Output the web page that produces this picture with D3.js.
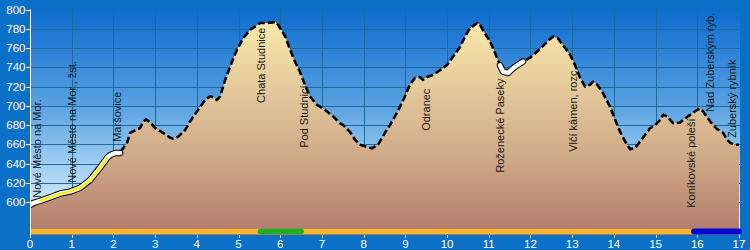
<!DOCTYPE html>
<html><head><meta charset="utf-8">
<script src="https://cdn.jsdelivr.net/npm/d3@7"></script>
<style>body{margin:0;background:#0b70c8;overflow:hidden}svg{display:block}</style>
</head><body><svg id="c" width="750" height="250"></svg>
<script>
const distKm = [0.00,0.07,0.24,0.48,0.72,0.96,1.20,1.44,1.68,1.85,1.92,2.04,2.16,2.23,2.33,2.40,2.54,2.64,2.71,2.78,2.88,3.00,3.19,3.36,3.43,3.55,3.72,3.84,4.08,4.20,4.32,4.39,4.48,4.56,4.68,4.80,4.96,5.11,5.28,5.52,5.68,5.88,5.95,6.12,6.24,6.35,6.47,6.59,6.71,6.88,7.07,7.27,7.43,7.51,7.67,7.79,7.91,8.03,8.20,8.35,8.51,8.63,8.75,8.87,8.99,9.11,9.23,9.35,9.42,9.52,9.66,9.83,10.00,10.14,10.31,10.43,10.55,10.72,10.79,10.91,11.03,11.15,11.27,11.34,11.46,11.58,11.70,11.82,11.99,12.23,12.40,12.54,12.66,12.78,12.95,13.07,13.19,13.31,13.43,13.50,13.60,13.74,13.91,14.03,14.15,14.27,14.39,14.51,14.63,14.75,14.87,14.99,15.11,15.18,15.28,15.35,15.42,15.59,15.66,15.83,16.00,16.07,16.14,16.31,16.47,16.62,16.71,16.79,16.91,17.00];
const elevM = [597,599,601.5,605,609,611,615,623,636,646,649,651,651,656,662,672,675,677,683,686,683,677,672,667,666,668,675,684,699,706,710,709,706,710,727,741,758,770,779,786,786,787,784,772,758,746,735.5,722,710,701,696,689,682,680,673,665,659.6,658,656,660,672,680,689,699,710,722,729,730,727,730,732,737,742.5,751,761,772,780.5,786,784,775,767,755,742,735.5,734,739,742.5,746,750,759,766.6,772,770,763,753,742,729,720,722,725,722,713,699,685.5,673,663,655,656.5,663,670,677,680,685.5,690.7,689,685.5,682,682.7,685.5,690.7,696,697,694,683.7,676,672,665,661.6,659.6,659.6];

const yTickValues = [600,620,640,660,680,700,720,740,760,780,800];
const xTickValues = [0,1,2,3,4,5,6,7,8,9,10,11,12,13,14,15,16,17];

const placeNames = ["Nové Město na Mor.","Nové Město na Mor., žst.","Maršovice","Chata Studnice","Pod Studnicí","Odranec","Roženecké Paseky","Vlčí kámen, rozc.","Koníkovské poleší","Nad Zuberským ryb.","Zuberský rybník"];
const placeKm = [0.05,0.89,1.97,5.42,6.45,9.38,11.15,12.90,15.73,16.19,16.71];
const placeLabelElev = [604.7,620.2,662.7,703.1,656.5,674.1,630.6,652.3,594.3,693.8,666.8];

const whiteSegments = [[0,2.2],[11.22,11.87]];
const yellowSegments = [[0.12,1.85]];
const routeBase = [0,17];
const greenSegment = [5.48,6.55];
const blueSegment = [15.85,17];

(function(){
const svg = d3.select("#c");
const W = 750, H = 250;
const pL = 30, pR = 740, pT = 9.5, pB = 235;
const x = d3.scaleLinear().domain([0,17]).range([30,739]);
const y = d3.scaleLinear().domain([566,800]).range([pB, pT]);

svg.append("rect").attr("width",W).attr("height",H).attr("fill","#0b70c8");

const defs = svg.append("defs");
const sky = defs.append("linearGradient").attr("id","sky").attr("gradientUnits","userSpaceOnUse")
  .attr("x1",0).attr("y1",pT).attr("x2",0).attr("y2",pB);
[[0,"#0d6ccc"],[0.17,"#2a80d6"],[0.43,"#5aa2e2"],[0.6,"#86c0ec"],[0.85,"#cde6f8"],[1,"#eaf5fd"]]
  .forEach(s=>sky.append("stop").attr("offset",s[0]).attr("stop-color",s[1]));
const terr = defs.append("linearGradient").attr("id","terr").attr("gradientUnits","userSpaceOnUse")
  .attr("x1",0).attr("y1",pT).attr("x2",0).attr("y2",pB);
[[0,"#fbefb0"],[0.1,"#f6e4a8"],[0.4,"#e0c498"],[0.67,"#cea886"],[1,"#b27a6c"]]
  .forEach(s=>terr.append("stop").attr("offset",s[0]).attr("stop-color",s[1]));
defs.append("clipPath").attr("id","clip").append("rect")
  .attr("x",pL).attr("y",pT).attr("width",pR-pL).attr("height",pB-pT);

svg.append("rect").attr("x",pL).attr("y",pT).attr("width",pR-pL).attr("height",pB-pT).attr("fill","url(#sky)");

const g = svg.append("g").attr("clip-path","url(#clip)");
g.selectAll(".hg").data(yTickValues.filter(v=>v<800)).join("line")
  .attr("x1",pL).attr("x2",pR).attr("y1",d=>Math.round(y(d))+0.5).attr("y2",d=>Math.round(y(d))+0.5)
  .attr("stroke","#1d6a9e").attr("stroke-width",1);
g.selectAll(".vg").data(xTickValues.filter(v=>v>0&&v<17)).join("line")
  .attr("y1",pT).attr("y2",pB).attr("x1",d=>Math.round(x(d))+0.5).attr("x2",d=>Math.round(x(d))+0.5)
  .attr("stroke","#1d6a9e").attr("stroke-width",1);

const pts = distKm.map((d,i)=>[d,elevM[i]]);
const area = d3.area().x(d=>x(d[0])).y0(pB).y1(d=>y(d[1]));
g.append("path").datum(pts).attr("d",area).attr("fill","url(#terr)");

const line = d3.line().x(d=>x(d[0])).y(d=>y(d[1]));
g.append("path").datum(pts).attr("d",line).attr("fill","none")
  .attr("stroke","#000").attr("stroke-width",2.6).attr("stroke-dasharray","7,3").attr("stroke-linejoin","round");

const seg = r => pts.filter(p=>p[0]>=r[0]-1e-9 && p[0]<=r[1]+1e-9);
whiteSegments.forEach(r=>{
  g.append("path").datum(seg(r)).attr("d",line).attr("fill","none").attr("stroke","#000")
    .attr("stroke-width",6.5).attr("stroke-linecap","round").attr("stroke-linejoin","round");
  g.append("path").datum(seg(r)).attr("d",line).attr("fill","none").attr("stroke","#fff")
    .attr("stroke-width",4.5).attr("stroke-linecap","round").attr("stroke-linejoin","round");
});
yellowSegments.forEach(r=>{
  g.append("path").datum(seg(r)).attr("d",line).attr("fill","none").attr("stroke","#f4f000")
    .attr("stroke-width",2.2).attr("stroke-linecap","round").attr("stroke-linejoin","round");
});

const barY = 231.5;
svg.append("line").attr("x1",x(routeBase[0])).attr("x2",pR).attr("y1",barY).attr("y2",barY)
  .attr("stroke","#f8b62c").attr("stroke-width",5);
svg.append("line").attr("x1",x(greenSegment[0])+2).attr("x2",x(greenSegment[1])-2).attr("y1",barY).attr("y2",barY)
  .attr("stroke","#1cb01c").attr("stroke-width",5.5).attr("stroke-linecap","round");
svg.append("line").attr("x1",x(blueSegment[0])+3).attr("x2",x(blueSegment[1])).attr("y1",barY).attr("y2",barY)
  .attr("stroke","#0008d8").attr("stroke-width",6).attr("stroke-linecap","round");

svg.selectAll(".pl").data(placeNames).join("text")
  .attr("transform",(d,i)=>`translate(${x(placeKm[i])+9},${y(placeLabelElev[i])}) rotate(-90)`)
  .attr("font-family","'Liberation Sans', Arial, sans-serif").attr("font-size",11)
  .attr("fill","#1a1a1a").text(d=>d);

svg.append("line").attr("x1",30.5).attr("x2",30.5).attr("y1",pT).attr("y2",pB).attr("stroke","#fff").attr("stroke-width",1);
svg.selectAll(".yt").data(yTickValues).join("line")
  .attr("x1",26).attr("x2",30).attr("y1",d=>Math.round(y(d))+0.5).attr("y2",d=>Math.round(y(d))+0.5)
  .attr("stroke","#fff");
svg.selectAll(".yl").data(yTickValues).join("text")
  .attr("x",25.5).attr("y",d=>y(d)+4).attr("text-anchor","end")
  .attr("font-family","'Liberation Sans', Arial, sans-serif").attr("font-size",11.5).attr("fill","#fff").text(d=>d);
svg.selectAll(".xt").data(xTickValues).join("line")
  .attr("x1",d=>Math.round(x(d))+0.5).attr("x2",d=>Math.round(x(d))+0.5).attr("y1",pB).attr("y2",pB+3)
  .attr("stroke","#fff");
svg.selectAll(".xl").data(xTickValues).join("text")
  .attr("x",d=>x(d)).attr("y",247.5).attr("text-anchor","middle")
  .attr("font-family","'Liberation Sans', Arial, sans-serif").attr("font-size",11.5).attr("fill","#fff").text(d=>d);
})();
</script></body></html>
